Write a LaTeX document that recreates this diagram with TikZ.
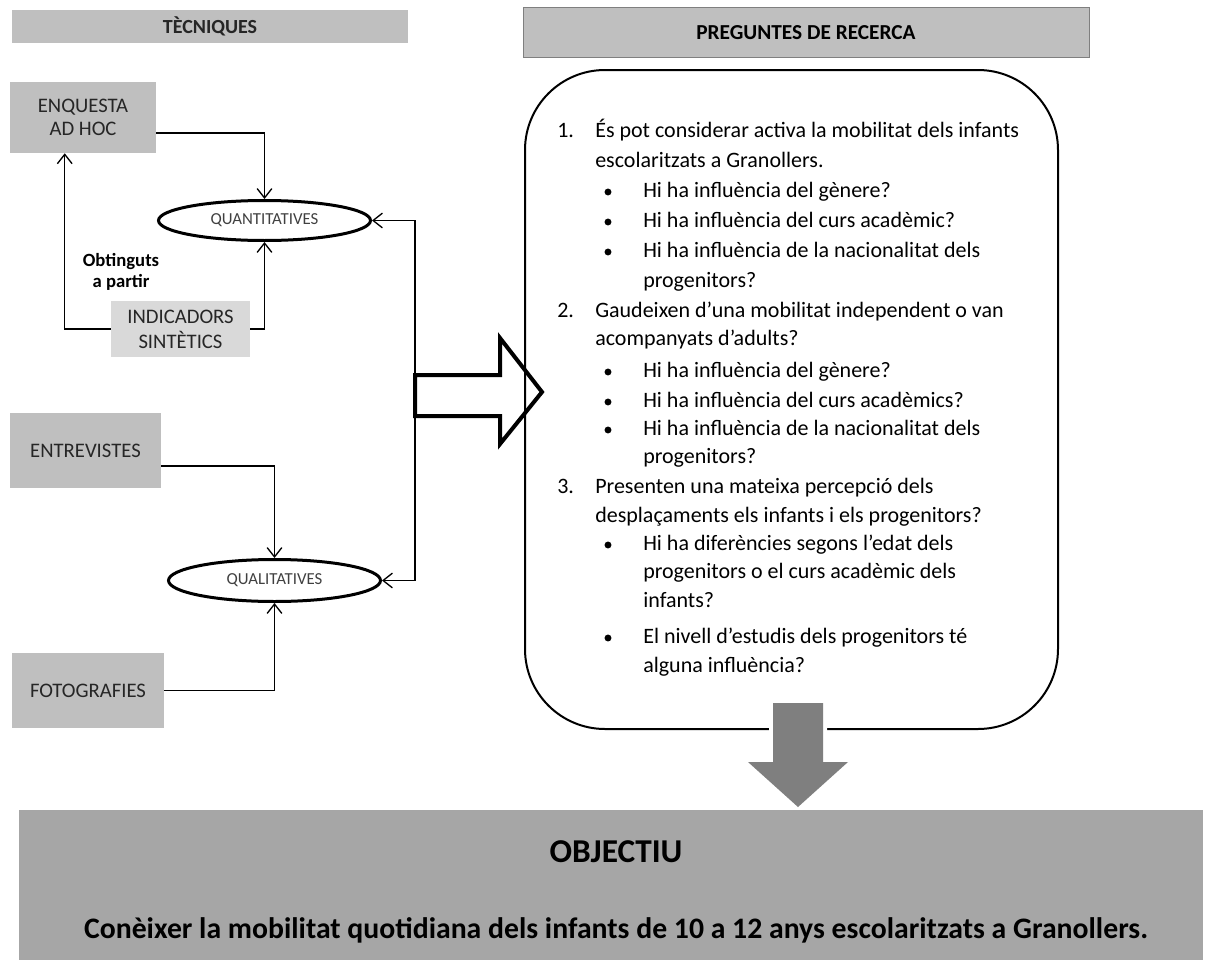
\documentclass[tikz,border=0pt]{standalone}
\usepackage{fontspec}
\setmainfont{Carlito}
\usetikzlibrary{arrows.meta,shapes.geometric,calc}
\definecolor{boxgray}{HTML}{BFBFBF}
\definecolor{lightbox}{HTML}{D9D9D9}
\definecolor{objgray}{HTML}{A6A6A6}
\definecolor{arrgray}{HTML}{7F7F7F}
\definecolor{txtgray}{HTML}{262626}
\definecolor{elltxt}{HTML}{404040}
\begin{document}
\begin{tikzpicture}[x=0.75pt,y=-0.75pt,
  techbox/.style={fill=boxgray, inner sep=0pt, align=center, text=txtgray,
     font=\fontsize{15.5}{17.25}\selectfont},
  ovalnode/.style={ellipse, draw, line width=2.25pt, inner sep=0pt, text=elltxt,
     minimum width=159pt, font=\fontsize{12.6}{14}\selectfont},
  conn/.style={line width=1pt, -{Straight Barb[length=7pt,width=11pt]}},
  ln/.style={anchor=base west, inner sep=0pt, font=\fontsize{16.5}{20}\selectfont}]
\useasboundingbox (0,0) rectangle (1211,960);

% headers
\node[fill=boxgray, inner sep=0pt, minimum width=297pt, minimum height=24.75pt,
  text=txtgray, font=\bfseries\fontsize{15}{17}\selectfont] (tec) at (210,26.5) {TÈCNIQUES};
\node[fill=boxgray, draw=arrgray, line width=0.75pt, inner sep=0pt, minimum width=424.5pt,
  minimum height=37.5pt, font=\bfseries\fontsize{16}{18}\selectfont] (preg) at (806,32.5) {PREGUNTES DE RECERCA};

% technique boxes
\node[techbox, minimum width=109.5pt, minimum height=53.25pt] (enq) at (83,117.5) {ENQUESTA\\AD HOC};
\node[techbox, fill=lightbox, minimum width=104.25pt, minimum height=42pt,
  font=\fontsize{15.5}{18.75}\selectfont] (ind) at (180.5,329) {INDICADORS\\SINTÈTICS};
\node[techbox, minimum width=113.25pt, minimum height=56.25pt] (entr) at (85.5,450.5) {ENTREVISTES};
\node[techbox, minimum width=114pt, minimum height=56.25pt] (foto) at (88,690.5) {FOTOGRAFIES};

\node[align=center, inner sep=0pt, font=\bfseries\fontsize{14}{15.75}\selectfont] (obt) at (121,271.5) {Obtinguts\\a partir};

% ellipses
\node[ovalnode, minimum height=30pt] (quant) at (264.5,220.5) {QUANTITATIVES};
\node[ovalnode, minimum height=31.5pt] (qual) at (274.5,580.5) {QUALITATIVES};

% connectors
\coordinate (bus) at (415,0);
\draw[conn] ($(enq.east)+(0,15.5)$) -| (quant.north);
\draw[conn] (ind.west) -| ($(enq.south west)+(55,0)$);
\draw[conn] (ind.east) -| (quant.south);
\draw[line width=1pt, {Straight Barb[length=7pt,width=11pt]}-{Straight Barb[length=7pt,width=11pt]}]
  (quant.east) -- (quant.east -| bus) -- (qual.east -| bus) -- (qual.east);
\draw[conn] ($(entr.east)+(0,15.5)$) -| (qual.north);
\draw[conn] (foto.east) -| (qual.south);

% big white arrow
\draw[line width=3pt, fill=white] (415,375) -- (500,375) -- (500,338) -- (542,392)
  -- (500,444) -- (500,416) -- (415,416) -- cycle;

% questions box
\node[draw, line width=1.5pt, rounded corners=60pt, minimum width=399.75pt,
  minimum height=494.25pt, inner sep=0pt] (qbox) at (791.5,399.5) {};

\node[ln] (n1) at (557,137) {1.};
\node[ln] (l1) at (595,137) {És pot considerar activa la mobilitat dels infants};
\node[ln] (l2) at (595,167) {escolaritzats a Granollers.};
\node[ln] (l3) at (643,197) {Hi ha influència del gènere?};
\node[ln] (l4) at (643,227) {Hi ha influència del curs acadèmic?};
\node[ln] (l5) at (643,257) {Hi ha influència de la nacionalitat dels};
\node[ln] (l6) at (643,287) {progenitors?};
\node[ln] (n2) at (557,317) {2.};
\node[ln] (l7) at (595,317) {Gaudeixen d’una mobilitat independent o van};
\node[ln] (l8) at (595,345) {acompanyats d’adults?};
\node[ln] (l9) at (643,377) {Hi ha influència del gènere?};
\node[ln] (l10) at (643,407) {Hi ha influència del curs acadèmics?};
\node[ln] (l11) at (643,435) {Hi ha influència de la nacionalitat dels};
\node[ln] (l12) at (643,463) {progenitors?};
\node[ln] (n3) at (557,493) {3.};
\node[ln] (l13) at (595,493) {Presenten una mateixa percepció dels};
\node[ln] (l14) at (595,522) {desplaçaments els infants i els progenitors?};
\node[ln] (l15) at (643,550) {Hi ha diferències segons l’edat dels};
\node[ln] (l16) at (643,578) {progenitors o el curs acadèmic dels};
\node[ln] (l17) at (643,607) {infants?};
\node[ln] (l18) at (643,643) {El nivell d’estudis dels progenitors té};
\node[ln] (l19) at (643,672) {alguna influència?};
\foreach \yy in {192,222,252,372,402,430,545,638}
  \fill (608,\yy) circle (2.6pt);

% gray down arrow
\fill[arrgray, preaction={draw=white, line width=6pt}] (773,703) -- (823,703) -- (823,762)
  -- (848,762) -- (798,807) -- (748,762) -- (773,762) -- cycle;

% objective
\node[fill=objgray, inner sep=0pt, minimum width=888pt, minimum height=112.5pt] (obj) at (611,885) {};
\node[inner sep=0pt, font=\bfseries\fontsize{25}{28}\selectfont] (objt) at (616,852) {OBJECTIU};
\node[inner sep=0pt, font=\bfseries\fontsize{22.3}{26}\selectfont] (objd) at (616,930)
  {Conèixer la mobilitat quotidiana dels infants de 10 a 12 anys escolaritzats a Granollers.};
\end{tikzpicture}
\end{document}
